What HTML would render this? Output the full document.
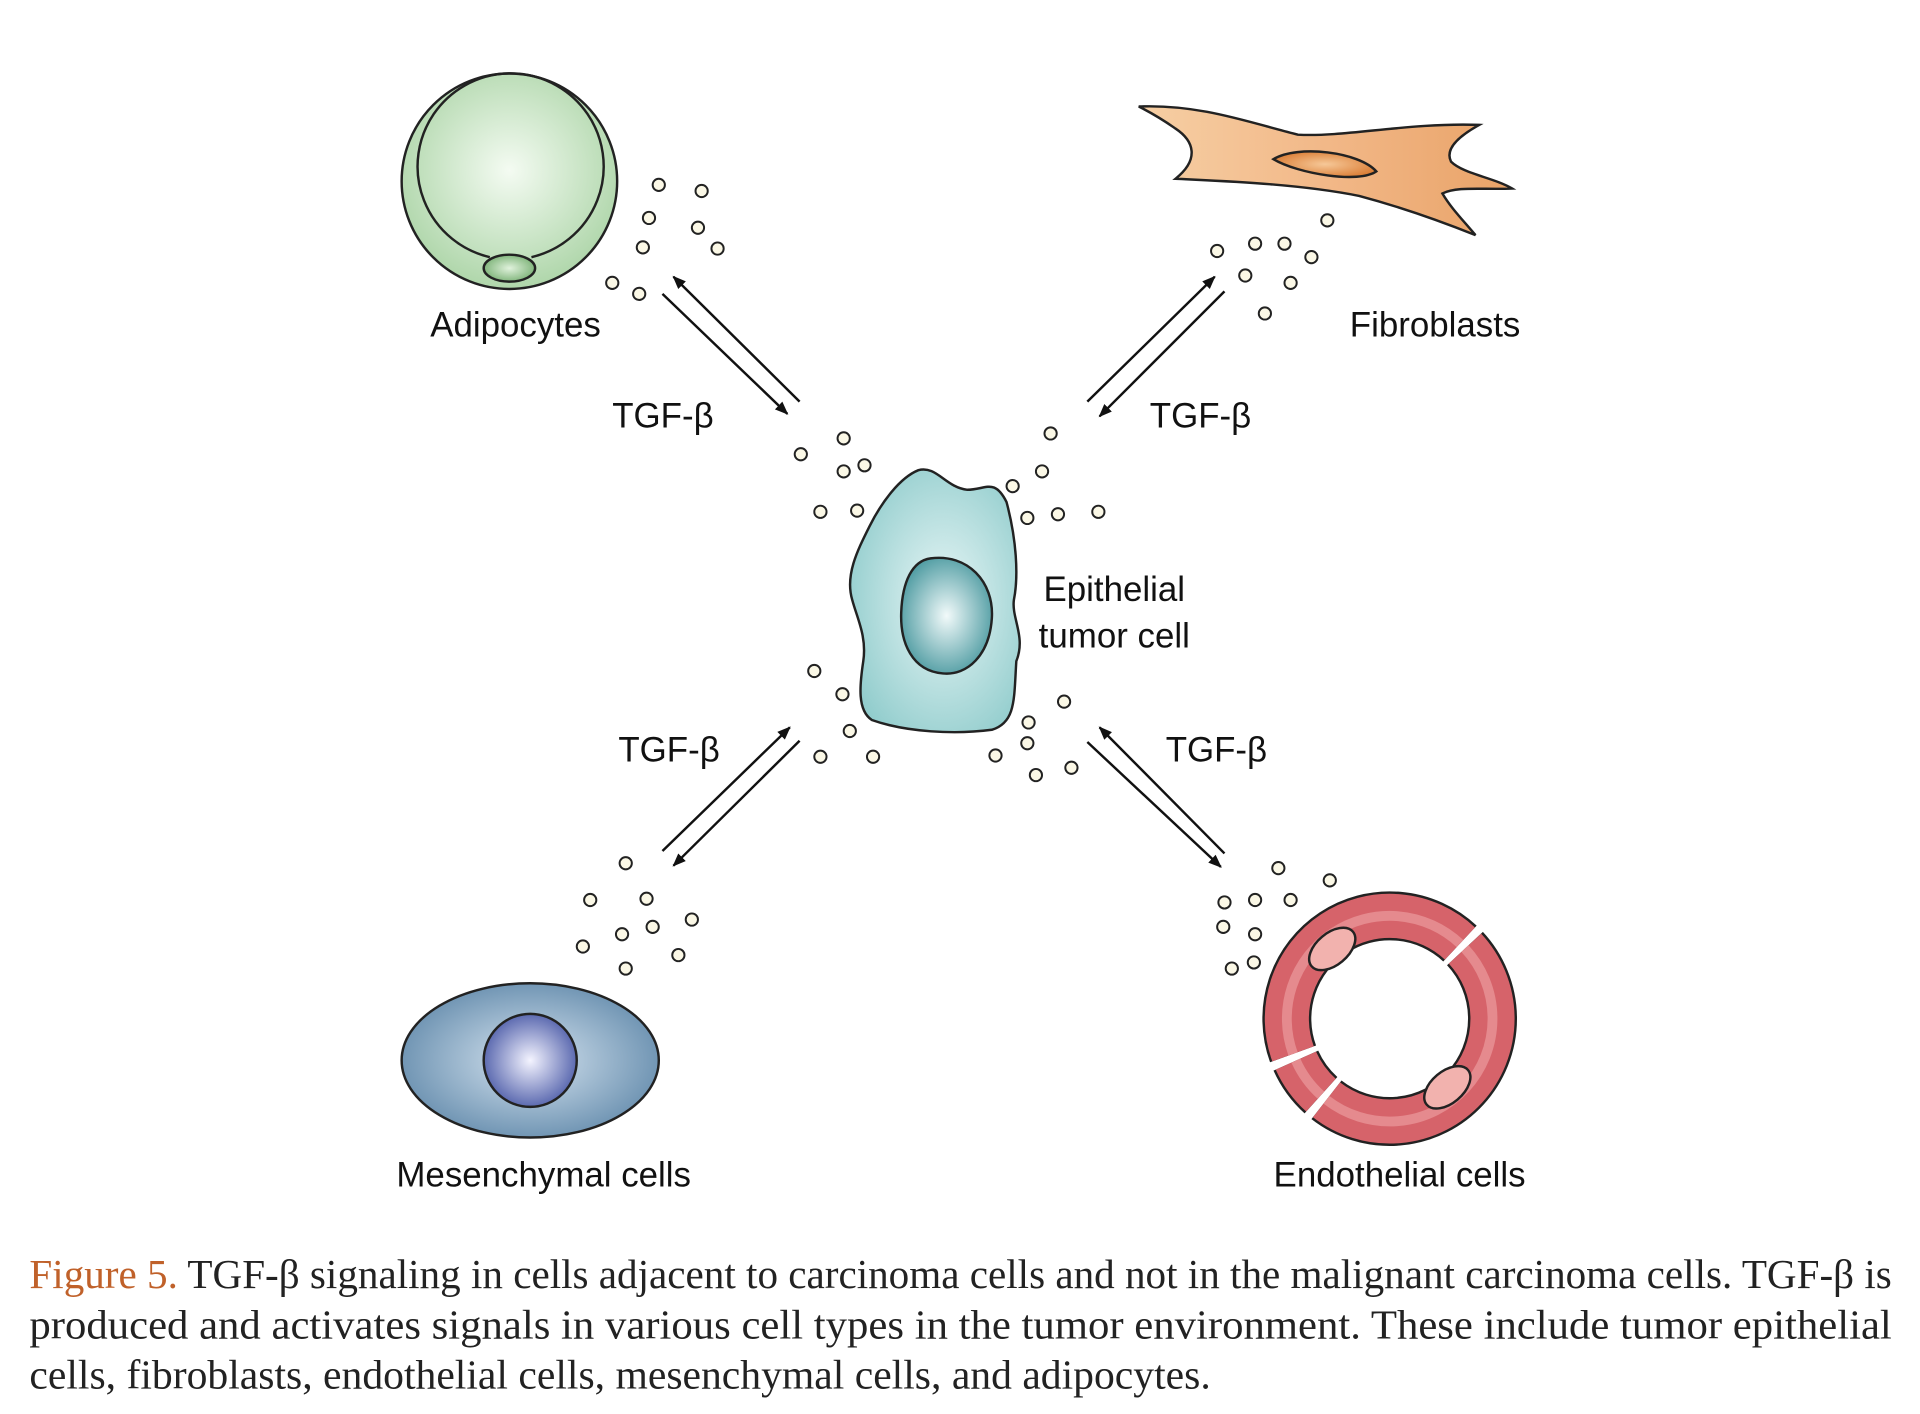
<!DOCTYPE html>
<html><head><meta charset="utf-8"><style>
html,body{margin:0;padding:0;background:#fff;}
svg{display:block;}
</style></head><body>
<svg width="1920" height="1414" viewBox="0 0 1568 1154.8" xmlns="http://www.w3.org/2000/svg">
<defs>
<radialGradient id="gA" cx="0.5" cy="0.45" r="0.6"><stop offset="0" stop-color="#f4fbf2"/><stop offset="1" stop-color="#a9d3a4"/></radialGradient>
<radialGradient id="gAn" cx="0.5" cy="0.5" r="0.6"><stop offset="0" stop-color="#e0f2dc"/><stop offset="1" stop-color="#6faa6a"/></radialGradient>
<linearGradient id="gF" x1="0" y1="0" x2="1" y2="0"><stop offset="0" stop-color="#f6cfa4"/><stop offset="0.5" stop-color="#f2b888"/><stop offset="1" stop-color="#e9a368"/></linearGradient>
<radialGradient id="gFn" cx="0.5" cy="0.5" r="0.6"><stop offset="0" stop-color="#f6c898"/><stop offset="1" stop-color="#d9782e"/></radialGradient>
<radialGradient id="gT" cx="0.55" cy="0.5" r="0.65"><stop offset="0" stop-color="#e8f6f6"/><stop offset="1" stop-color="#8ccaca"/></radialGradient>
<radialGradient id="gTn" cx="0.5" cy="0.5" r="0.6"><stop offset="0" stop-color="#f2fafa"/><stop offset="1" stop-color="#3e9299"/></radialGradient>
<radialGradient id="gM" cx="0.5" cy="0.5" r="0.6"><stop offset="0" stop-color="#d6e4f0"/><stop offset="1" stop-color="#5d86a8"/></radialGradient>
<radialGradient id="gMn" cx="0.5" cy="0.5" r="0.6"><stop offset="0" stop-color="#f4f4ff"/><stop offset="1" stop-color="#3d4ea0"/></radialGradient>
<marker id="ah" viewBox="0 0 10 10" refX="9" refY="5" markerWidth="11" markerHeight="11" orient="auto" markerUnits="userSpaceOnUse"><path d="M0,1 L10,5 L0,9 z" fill="#111"/></marker>
</defs>

<circle cx="416" cy="148" r="88" fill="url(#gA)" stroke="#222" stroke-width="2"/>
<path d="M400,210 A76,76 0 1 1 434,210" fill="none" stroke="#222" stroke-width="2"/>
<ellipse cx="416" cy="219" rx="21" ry="11" fill="url(#gAn)" stroke="#222" stroke-width="2"/>
<text x="421" y="275" font-family="Liberation Sans,sans-serif" font-size="28.5" text-anchor="middle" fill="#111">Adipocytes</text>

<path d="M930,87 C980,85 1020,100 1060,110 C1100,112 1150,100 1208,102 C1190,112 1180,122 1185,132 C1195,142 1220,145 1235,154 C1210,155 1190,152 1178,158 C1185,170 1195,180 1205,192 C1170,178 1140,168 1110,160 C1060,150 1000,148 960,146 C980,130 975,115 960,105 C950,98 940,92 930,87 Z" fill="url(#gF)" stroke="#222" stroke-width="2"/>
<path d="M1040,130 C1060,118 1110,124 1124,140 C1110,150 1060,142 1040,130 Z" fill="url(#gFn)" stroke="#222" stroke-width="2"/>
<text x="1172" y="275" font-family="Liberation Sans,sans-serif" font-size="28.5" text-anchor="middle" fill="#111">Fibroblasts</text>

<path d="M750,384 C765,380 772,398 790,400 C805,400 812,390 822,410 C830,440 832,470 828,490 C826,505 838,520 830,540 C828,570 830,590 810,596 C780,600 740,598 712,588 C700,580 702,560 705,540 C708,520 700,505 696,490 C690,470 700,450 710,430 C720,410 735,390 750,384 Z" fill="url(#gT)" stroke="#222" stroke-width="2"/>
<path d="M760,456 C790,452 812,475 810,505 C808,535 790,552 770,550 C745,548 735,525 736,500 C737,475 745,458 760,456 Z" fill="url(#gTn)" stroke="#222" stroke-width="2"/>
<text x="910" y="491" font-family="Liberation Sans,sans-serif" font-size="28.5" text-anchor="middle" fill="#111">Epithelial</text>
<text x="910" y="529" font-family="Liberation Sans,sans-serif" font-size="28.5" text-anchor="middle" fill="#111">tumor cell</text>

<ellipse cx="433" cy="866" rx="105" ry="63" fill="url(#gM)" stroke="#222" stroke-width="2"/>
<circle cx="433" cy="866" r="38" fill="url(#gMn)" stroke="#222" stroke-width="2"/>
<text x="444" y="969" font-family="Liberation Sans,sans-serif" font-size="28.5" text-anchor="middle" fill="#111">Mesenchymal cells</text>

<g fill="none">
<g stroke="#222" stroke-width="40">
<path d="M1196.4,774.7 A84,84 0 0 1 1083.3,898.2"/>
<path d="M1078.8,894.4 A84,84 0 0 1 1058.3,866.2"/>
<path d="M1056.0,860.7 A84,84 0 0 1 1192.3,770.6"/>
</g>
<g stroke="#d6636a" stroke-width="36">
<path d="M1196.4,774.7 A84,84 0 0 1 1083.3,898.2"/>
<path d="M1078.8,894.4 A84,84 0 0 1 1058.3,866.2"/>
<path d="M1056.0,860.7 A84,84 0 0 1 1192.3,770.6"/>
</g>
<g stroke="#e58a8e" stroke-width="8">
<path d="M1196.4,774.7 A84,84 0 0 1 1083.3,898.2"/>
<path d="M1078.8,894.4 A84,84 0 0 1 1058.3,866.2"/>
<path d="M1056.0,860.7 A84,84 0 0 1 1192.3,770.6"/>
</g>
</g>
<ellipse cx="1088" cy="775" rx="22" ry="13" transform="rotate(-40 1088 775)" fill="#f2b2ae" stroke="#222" stroke-width="2"/>
<ellipse cx="1182" cy="888" rx="22" ry="13" transform="rotate(-40 1182 888)" fill="#f2b2ae" stroke="#222" stroke-width="2"/>
<text x="1143" y="969" font-family="Liberation Sans,sans-serif" font-size="28.5" text-anchor="middle" fill="#111">Endothelial cells</text>

<g stroke="#111" stroke-width="2" marker-end="url(#ah)">
<line x1="541" y1="240" x2="643" y2="338"/>
<line x1="653" y1="328" x2="550" y2="226"/>
<line x1="888" y1="328" x2="992" y2="226"/>
<line x1="1000" y1="238" x2="898" y2="340"/>
<line x1="541" y1="695" x2="645" y2="594"/>
<line x1="653" y1="605" x2="550" y2="707"/>
<line x1="1000" y1="697" x2="898" y2="594"/>
<line x1="888" y1="606" x2="997" y2="708"/>
</g>
<g font-family="Liberation Sans,sans-serif" font-size="28.5" fill="#111">
<text x="500" y="349">TGF-β</text>
<text x="939" y="349">TGF-β</text>
<text x="505" y="622">TGF-β</text>
<text x="952" y="622">TGF-β</text>
</g>

<g fill="#fbf8e6" stroke="#222" stroke-width="1.6">
<circle cx="538" cy="151" r="5"/><circle cx="573" cy="156" r="5"/><circle cx="530" cy="178" r="5"/><circle cx="570" cy="186" r="5"/><circle cx="525" cy="202" r="5"/><circle cx="586" cy="203" r="5"/><circle cx="500" cy="231" r="5"/><circle cx="522" cy="240" r="5"/>
<circle cx="1084" cy="180" r="5"/><circle cx="994" cy="205" r="5"/><circle cx="1025" cy="199" r="5"/><circle cx="1049" cy="199" r="5"/><circle cx="1071" cy="210" r="5"/><circle cx="1017" cy="225" r="5"/><circle cx="1054" cy="231" r="5"/><circle cx="1033" cy="256" r="5"/>
<circle cx="689" cy="358" r="5"/><circle cx="654" cy="371" r="5"/><circle cx="689" cy="385" r="5"/><circle cx="706" cy="380" r="5"/><circle cx="670" cy="418" r="5"/><circle cx="700" cy="417" r="5"/>
<circle cx="858" cy="354" r="5"/><circle cx="851" cy="385" r="5"/><circle cx="827" cy="397" r="5"/><circle cx="839" cy="423" r="5"/><circle cx="864" cy="420" r="5"/><circle cx="897" cy="418" r="5"/>
<circle cx="665" cy="548" r="5"/><circle cx="688" cy="567" r="5"/><circle cx="694" cy="597" r="5"/><circle cx="670" cy="618" r="5"/><circle cx="713" cy="618" r="5"/>
<circle cx="869" cy="573" r="5"/><circle cx="840" cy="590" r="5"/><circle cx="839" cy="607" r="5"/><circle cx="813" cy="617" r="5"/><circle cx="875" cy="627" r="5"/><circle cx="846" cy="633" r="5"/>
<circle cx="511" cy="705" r="5"/><circle cx="528" cy="734" r="5"/><circle cx="482" cy="735" r="5"/><circle cx="565" cy="751" r="5"/><circle cx="533" cy="757" r="5"/><circle cx="508" cy="763" r="5"/><circle cx="476" cy="773" r="5"/><circle cx="554" cy="780" r="5"/><circle cx="511" cy="791" r="5"/>
<circle cx="1044" cy="709" r="5"/><circle cx="1086" cy="719" r="5"/><circle cx="1000" cy="737" r="5"/><circle cx="1025" cy="735" r="5"/><circle cx="1054" cy="735" r="5"/><circle cx="999" cy="757" r="5"/><circle cx="1025" cy="763" r="5"/><circle cx="1006" cy="791" r="5"/><circle cx="1024" cy="786" r="5"/>
</g>

<g font-family="Liberation Serif,serif" font-size="34" fill="#222">
<text x="24" y="1052" textLength="1521" lengthAdjust="spacingAndGlyphs"><tspan fill="#c0612a">Figure 5.</tspan> TGF-β signaling in cells adjacent to carcinoma cells and not in the malignant carcinoma cells. TGF-β is</text>
<text x="24" y="1093" textLength="1521" lengthAdjust="spacingAndGlyphs">produced and activates signals in various cell types in the tumor environment. These include tumor epithelial</text>
<text x="24" y="1134">cells, fibroblasts, endothelial cells, mesenchymal cells, and adipocytes.</text>
</g>
</svg>
</body></html>
